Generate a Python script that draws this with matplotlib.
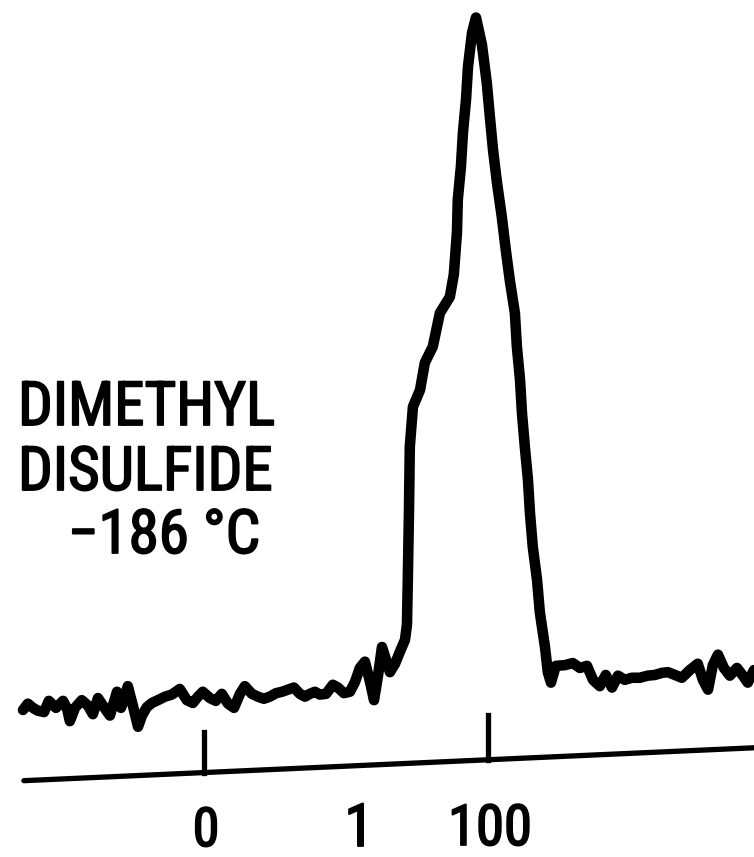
import matplotlib
matplotlib.use("Agg")
import matplotlib.pyplot as plt
from matplotlib import patheffects as pe
import logging
logging.getLogger("matplotlib.font_manager").setLevel(logging.ERROR)

# ---- data (shift units: tick "0" .. tick "100") ----
shift = [-63.7, -62.0, -60.2, -58.5, -56.3, -54.6, -52.1, -49.6, -48.2, -47.2,
         -45.4, -43.0, -40.8, -39.1, -37.3, -35.2, -33.1, -30.6, -29.2, -28.2,
         -26.8, -25.0, -23.2, -21.8, -20.1, -18.3, -16.2, -13.7, -11.3, -8.5,
         -6.0, -3.9, -2.1, -0.4, 2.1, 4.2, 6.3, 8.5, 10.6, 12.7,
         14.4, 16.9, 19.0, 21.1, 23.2, 25.4, 27.5, 29.6, 31.7, 33.8,
         35.6, 37.3, 39.1, 40.8, 43.0, 45.4, 47.2, 49.3, 51.4, 53.2,
         54.9, 56.7, 58.5, 59.9, 61.3, 62.7, 64.1, 65.5, 67.3, 69.0,
         70.8, 71.5, 71.8, 72.2, 72.5, 73.6, 76.1, 77.8, 80.6, 83.1,
         86.6, 88.0, 89.1, 89.4, 90.5, 91.2, 92.3, 93.0, 94.4, 95.8,
         97.9, 99.6, 100.7, 101.8, 103.2, 104.9, 106.3, 107.7, 109.5, 110.2,
         111.3, 112.0, 113.0, 114.1, 114.8, 115.8, 117.3, 118.3, 120.1, 121.1,
         122.2, 123.9, 127.1, 129.9, 132.4, 134.9, 137.0, 139.4, 141.5, 143.7,
         145.8, 148.2, 150.7, 153.5, 156.3, 158.8, 161.3, 163.4, 165.8, 168.3,
         171.1, 173.9, 175.7, 177.5, 179.2, 181.0, 183.1, 185.2, 187.7, 189.8,
         191.5, 193.7]
intensity = [0.7, 1.6, 1.0, 0.6, 0.4, 2.0, 1.0, 2.0, 0.9, -0.9,
             1.0, 2.1, 1.3, 0.1, 2.4, 1.1, -0.1, 3.3, 1.0, 2.1,
             4.1, 1.3, -1.7, -0.1, 1.1, 1.7, 2.1, 2.6, 2.9, 3.7,
             2.1, 1.7, 2.6, 3.3, 2.4, 2.0, 3.0, 1.6, 1.0, 3.0,
             4.1, 3.0, 2.6, 2.3, 2.6, 3.1, 3.3, 3.6, 3.9, 3.0,
             2.6, 3.0, 3.3, 2.9, 3.0, 4.3, 3.9, 3.1, 3.3, 4.7,
             6.7, 7.6, 4.7, 2.1, 5.6, 9.7, 7.9, 6.1, 7.3, 9.0,
             10.7, 12.9, 19.3, 28.9, 38.3, 44.0, 46.4, 50.3, 52.6, 57.4,
             59.7, 62.9, 68.9, 73.6, 78.3, 83.1, 87.9, 92.6, 97.4, 99.6,
             95.7, 90.3, 85.4, 80.7, 76.0, 71.1, 66.4, 62.1, 57.4, 52.6,
             47.9, 43.1, 38.3, 33.6, 28.9, 24.0, 19.3, 14.6, 9.7, 6.1,
             4.6, 7.0, 7.1, 7.4, 6.7, 7.0, 5.0, 4.1, 5.7, 3.9,
             5.6, 5.0, 5.3, 5.3, 5.6, 5.7, 6.0, 6.1, 5.7, 5.3,
             6.4, 7.3, 5.0, 3.6, 7.1, 8.6, 6.7, 5.6, 6.7, 5.6,
             4.6, 6.4]

# hand-drawn (slightly tilted) axis line and tick marks
axis_shift = [-63.4, 193.7]
axis_level = [-9.4, -4.7]
tick_shift = [0, 100]
tick_top = [-2.4, 0.0]
tick_bottom = [-8.3, -6.5]
tick_labels = ["0", "100"]
title_lines = ["DIMETHYL", "DISULFIDE", "\u2212186 \u00b0C"]

fonts = ["Roboto Condensed", "Liberation Sans Narrow", "Lato", "DejaVu Sans"]

W, H = 754, 857
fig = plt.figure(figsize=(W / 100, H / 100), dpi=100)
ax = fig.add_axes([0, 0, 1, 1])
ax.set_xlim(-71.8, 193.7)
ax.set_ylim(-20.3, 102.1)
ax.axis("off")

ax.plot(shift, intensity, color="black", lw=7.6,
        solid_joinstyle="round", solid_capstyle="round")
ax.plot(axis_shift, axis_level, color="black", lw=3.8, solid_capstyle="round")
for s, t, b in zip(tick_shift, tick_top, tick_bottom):
    ax.plot([s, s], [b, t], color="black", lw=3.8)

thick = [pe.withStroke(linewidth=1.3, foreground="black")]


def fig_xy(px, py):
    return px / W, 1 - py / H


def fitted(px, py, s, width_px, ha="left", base=40):
    t = fig.text(*fig_xy(px, py), s, ha=ha, va="baseline", fontsize=base,
                 family=fonts, path_effects=thick)
    fig.canvas.draw()
    w = t.get_window_extent(fig.canvas.get_renderer()).width
    t.set_fontsize(base * width_px / w)
    return t


# title block (sized to the reference's text widths)
t1 = fitted(18, 425, title_lines[0], 257)
fs_title = t1.get_fontsize()
fig.text(*fig_xy(18, 490), title_lines[1], ha="left", va="baseline",
         fontsize=fs_title, family=fonts, path_effects=thick)
fig.text(*fig_xy(68, 553), title_lines[2], ha="left", va="baseline",
         fontsize=fs_title, family=fonts, path_effects=thick)

# axis labels
t100 = fitted(490, 845, tick_labels[1], 84, ha="center")
fs_lab = t100.get_fontsize()
fig.text(*fig_xy(206, 846), tick_labels[0], ha="center", va="baseline",
         fontsize=fs_lab * 0.95, family=fonts, path_effects=thick)
fig.text(*fig_xy(359, 846), "1", ha="center", va="baseline",
         fontsize=fs_lab * 1.05, family=fonts, path_effects=thick)

fig.savefig("out.png", dpi=100, facecolor="white")
